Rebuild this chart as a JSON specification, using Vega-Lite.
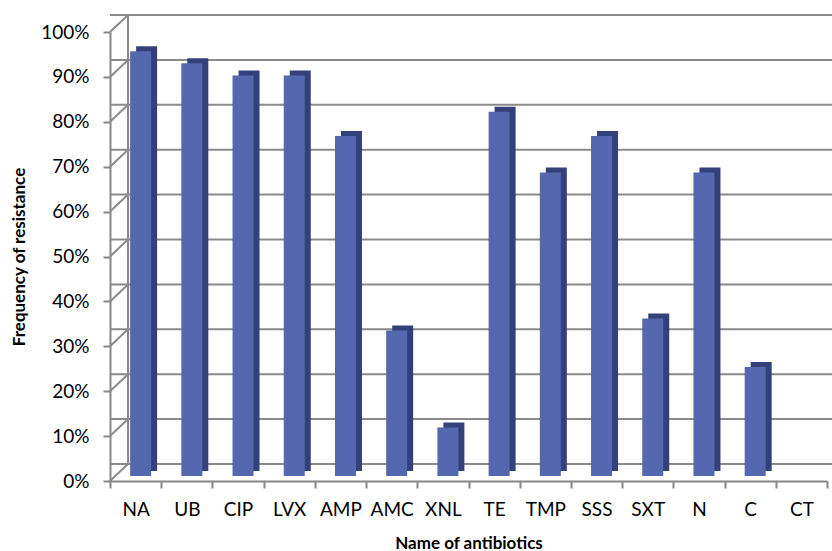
{
  "$schema": "https://vega.github.io/schema/vega-lite/v6.json",
  "width": 717,
  "height": 449,
  "autosize": {"type": "none"},
  "padding": {"left": 110, "top": 32, "right": 5, "bottom": 70},
  "background": "white",
  "config": {"view": {"stroke": null}, "font": "Lato"},
  "datasets": {
    "bars": [
      {"antibiotic": "NA", "resistance": 0.946},
      {"antibiotic": "UB", "resistance": 0.919},
      {"antibiotic": "CIP", "resistance": 0.892},
      {"antibiotic": "LVX", "resistance": 0.892},
      {"antibiotic": "AMP", "resistance": 0.757},
      {"antibiotic": "AMC", "resistance": 0.324},
      {"antibiotic": "XNL", "resistance": 0.108},
      {"antibiotic": "TE", "resistance": 0.811},
      {"antibiotic": "TMP", "resistance": 0.676},
      {"antibiotic": "SSS", "resistance": 0.757},
      {"antibiotic": "SXT", "resistance": 0.351},
      {"antibiotic": "N", "resistance": 0.676},
      {"antibiotic": "C", "resistance": 0.243},
      {"antibiotic": "CT", "resistance": 0.0}
    ],
    "grid": [
      {"v": 0}, {"v": 0.1}, {"v": 0.2}, {"v": 0.3}, {"v": 0.4}, {"v": 0.5},
      {"v": 0.6}, {"v": 0.7}, {"v": 0.8}, {"v": 0.9}, {"v": 1.0}
    ]
  },
  "layer": [
    {
      "data": {"name": "grid"},
      "mark": {"type": "rule", "color": "#8a8a8a", "strokeWidth": 2, "xOffset": 18, "yOffset": -17, "clip": false},
      "encoding": {
        "y": {
          "field": "v",
          "type": "quantitative",
          "scale": {"domain": [0, 1], "nice": false},
          "axis": {
            "title": "Frequency of resistance",
            "titleFont": "Lato",
            "titleFontSize": 17,
            "titleFontWeight": "bold",
            "titleColor": "black",
            "titlePadding": 12,
            "values": [0, 0.1, 0.2, 0.3, 0.4, 0.5, 0.6, 0.7, 0.8, 0.9, 1.0],
            "format": ".0%",
            "labelFont": "Lato",
            "labelFontSize": 19,
            "labelColor": "black",
            "labelPadding": 14,
            "tickSize": 7,
            "tickColor": "#868686",
            "tickWidth": 2,
            "domainColor": "#868686",
            "domainWidth": 2,
            "grid": false
          }
        }
      }
    },
    {
      "data": {"name": "grid"},
      "mark": {"type": "rule", "color": "#8a8a8a", "strokeWidth": 2, "x2Offset": 18, "y2Offset": -17},
      "encoding": {
        "x": {
          "datum": "NA",
          "type": "nominal",
          "bandPosition": 0,
          "scale": {
            "domain": ["NA", "UB", "CIP", "LVX", "AMP", "AMC", "XNL", "TE", "TMP", "SSS", "SXT", "N", "C", "CT"],
            "paddingInner": 0,
            "paddingOuter": 0
          },
          "axis": {
            "title": "Name of antibiotics",
            "titleFont": "Lato",
            "titleFontSize": 17,
            "titleFontWeight": "bold",
            "titleColor": "black",
            "titlePadding": 16,
            "labelAngle": 0,
            "labelFont": "Lato",
            "labelFontSize": 19,
            "labelColor": "black",
            "labelPadding": 12,
            "bandPosition": 0.5,
            "tickBand": "extent",
            "tickSize": 7,
            "tickColor": "#868686",
            "tickWidth": 2,
            "domainColor": "#868686",
            "domainWidth": 2,
            "grid": false
          }
        },
        "x2": {"datum": "NA", "bandPosition": 0},
        "y": {"field": "v", "type": "quantitative"},
        "y2": {"field": "v"}
      }
    },
    {
      "data": {"name": "grid"},
      "transform": [{"filter": "datum.v == 0"}],
      "mark": {"type": "rule", "color": "#8a8a8a", "strokeWidth": 2, "xOffset": 18, "x2Offset": 18, "yOffset": -17, "y2Offset": -17},
      "encoding": {
        "x": {"datum": "NA", "type": "nominal", "bandPosition": 0},
        "x2": {"datum": "NA", "bandPosition": 0},
        "y": {"datum": 0, "type": "quantitative"},
        "y2": {"datum": 1}
      }
    },
    {
      "data": {"name": "bars"},
      "mark": {"type": "bar", "color": "#33407a", "width": {"band": 0.41}, "xOffset": 11, "yOffset": -10, "y2Offset": -10},
      "encoding": {
        "x": {"field": "antibiotic", "type": "nominal"},
        "y": {"field": "resistance", "type": "quantitative"}
      }
    },
    {
      "data": {"name": "bars"},
      "mark": {"type": "bar", "color": "#5567ae", "width": {"band": 0.41}, "xOffset": 5, "yOffset": -5, "y2Offset": -5},
      "encoding": {
        "x": {"field": "antibiotic", "type": "nominal"},
        "y": {"field": "resistance", "type": "quantitative"}
      }
    }
  ]
}
